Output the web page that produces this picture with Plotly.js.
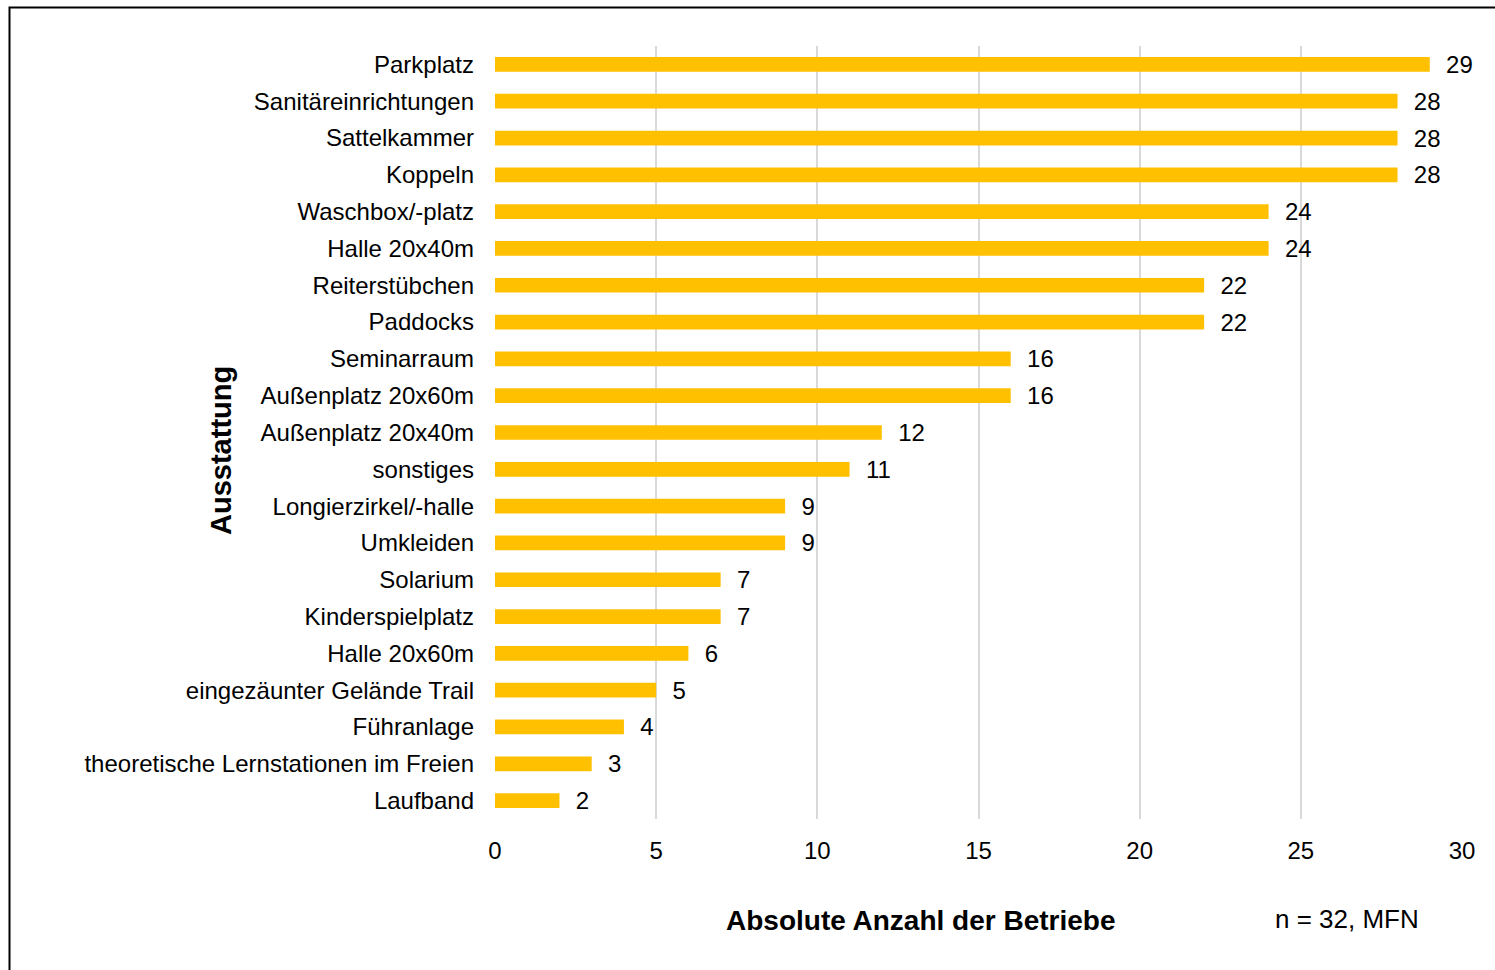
<!DOCTYPE html>
<html>
<head>
<meta charset="utf-8">
<script src="https://cdn.plot.ly/plotly-3.0.1.min.js"></script>
<style>
  html, body { margin: 0; padding: 0; background: #fff; }
  #chart { width: 1495px; height: 970px; }
</style>
</head>
<body>
<div id="chart"></div>
<script>
const categories = [
  "Parkplatz",
  "Sanitäreinrichtungen",
  "Sattelkammer",
  "Koppeln",
  "Waschbox/-platz",
  "Halle 20x40m",
  "Reiterstübchen",
  "Paddocks",
  "Seminarraum",
  "Außenplatz 20x60m",
  "Außenplatz 20x40m",
  "sonstiges",
  "Longierzirkel/-halle",
  "Umkleiden",
  "Solarium",
  "Kinderspielplatz",
  "Halle 20x60m",
  "eingezäunter Gelände Trail",
  "Führanlage",
  "theoretische Lernstationen im Freien",
  "Laufband"
];
const counts = [29, 28, 28, 28, 24, 24, 22, 22, 16, 16, 12, 11, 9, 9, 7, 7, 6, 5, 4, 3, 2];
const xTickValues = [0, 5, 10, 15, 20, 25, 30];
const xTitle = "Absolute Anzahl der Betriebe";
const yTitle = "Ausstattung";
const note = "n = 32, MFN";

const FONT = "Liberation Sans, Arial, sans-serif";

const trace = {
  type: "bar",
  orientation: "h",
  y: categories,
  x: counts,
  marker: { color: "#FFC000", line: { width: 0 } },
  text: counts.map(v => "\u00a0\u00a0" + v),
  textposition: "outside",
  textfont: { family: FONT, size: 24, color: "#000" },
  constraintext: "none",
  cliponaxis: false,
  hoverinfo: "x+y"
};

const layout = {
  width: 1495,
  height: 970,
  margin: { l: 495, r: 33, t: 46, b: 151 },
  paper_bgcolor: "#fff",
  plot_bgcolor: "#fff",
  showlegend: false,
  bargap: 0.6,
  font: { family: FONT, size: 24, color: "#000" },
  xaxis: {
    range: [0, 30],
    tickvals: xTickValues,
    showgrid: true,
    gridcolor: "#D9D9D9",
    gridwidth: 2,
    zeroline: false,
    showline: false,
    ticks: "",
    ticklabelstandoff: 15,
    tickfont: { family: FONT, size: 24, color: "#000" },
    fixedrange: true
  },
  yaxis: {
    type: "category",
    autorange: "reversed",
    showgrid: false,
    zeroline: false,
    showline: false,
    ticks: "",
    ticklabelstandoff: 20,
    tickfont: { family: FONT, size: 24, color: "#000" },
    fixedrange: true
  },
  annotations: [
    {
      text: "<b>" + xTitle + "</b>",
      xref: "paper", yref: "paper",
      x: (920 - 495) / 967, y: (819.4 - 921) / 773.8,
      xanchor: "center", yanchor: "middle",
      showarrow: false,
      font: { family: FONT, size: 28, color: "#000" }
    },
    {
      text: "<b>" + yTitle + "</b>",
      xref: "paper", yref: "paper",
      x: (221 - 495) / 967, y: (819.4 - 451) / 773.8,
      xanchor: "center", yanchor: "middle",
      textangle: -90,
      showarrow: false,
      font: { family: FONT, size: 29, color: "#000" }
    },
    {
      text: note,
      xref: "paper", yref: "paper",
      x: (1347 - 495) / 967, y: (819.4 - 920) / 773.8,
      xanchor: "center", yanchor: "middle",
      showarrow: false,
      font: { family: FONT, size: 26, color: "#000" }
    }
  ],
  shapes: [
    {
      type: "rect",
      xref: "paper", yref: "paper",
      x0: (9.5 - 495) / 967, x1: (1510 - 495) / 967,
      y0: (819.4 - 990) / 773.8, y1: (819.4 - 7) / 773.8,
      line: { color: "#000", width: 2 },
      fillcolor: "rgba(0,0,0,0)",
      layer: "below"
    }
  ]
};

Plotly.newPlot("chart", [trace], layout, { displayModeBar: false, staticPlot: true });
</script>
</body>
</html>
